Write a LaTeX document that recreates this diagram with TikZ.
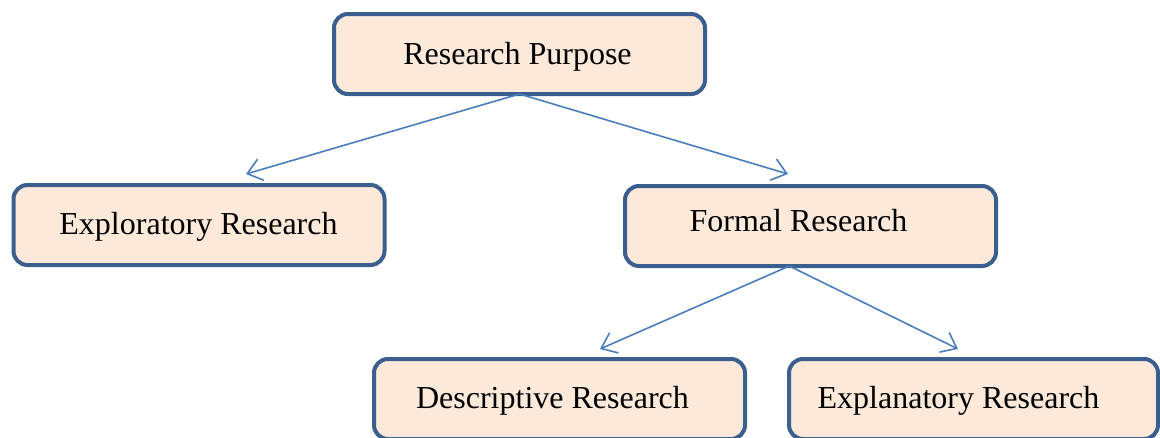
\documentclass[tikz,border=0pt]{standalone}
\usepackage{fontspec}
\setmainfont{Liberation Serif}
\usetikzlibrary{arrows.meta,calc}
\definecolor{boxfill}{HTML}{FDE9D9}
\definecolor{boxline}{HTML}{3A5F8E}
\definecolor{arrowline}{HTML}{4A7EBB}
\begin{document}
\begin{tikzpicture}[x=1pt,y=-1pt,
  box/.style={draw=boxline, fill=boxfill, line width=4pt, rounded corners=14pt,
    minimum width=371pt, minimum height=80pt, inner sep=0pt, outer sep=0pt},
  label text/.style={anchor=base, inner sep=0pt, font=\fontsize{32}{38}\selectfont},
  link/.style={draw=arrowline, line width=1.6pt,
    -{Straight Barb[length=14pt,width=22pt,line width=1.6pt]}}]
\useasboundingbox (0,0) rectangle (1160,437);

% boxes
\node[box] (rp) at (519.5,54) {};
\node[box] (ex) at (199,225) {};
\node[box] (fr) at (810.5,226) {};
\node[box] (de) at (559.5,399) {};
\node[box, minimum width=369pt] (xp) at (973.5,399) {};

% labels
\node[label text] (rpt) at (517.5,64) {Research Purpose};
\node[label text] (ext) at (198.5,234) {Exploratory Research};
\node[label text] (frt) at (798.5,231) {Formal Research};
\node[label text] (det) at (552.5,408) {Descriptive Research};
\node[label text] (xpt) at (958.5,408) {Explanatory Research};

% connector ends
\coordinate (frs) at ($(fr.south west)!0.443!(fr.south east)$);
\coordinate (a1) at (246,174);
\coordinate (a2) at (788,174);
\coordinate (a3) at (600,349);
\coordinate (a4) at (958,349);

\draw[link] (rp.south) -- (a1);
\draw[link] (rp.south) -- (a2);
\draw[link] (frs) -- (a3);
\draw[link] (frs) -- (a4);
\end{tikzpicture}
\end{document}
